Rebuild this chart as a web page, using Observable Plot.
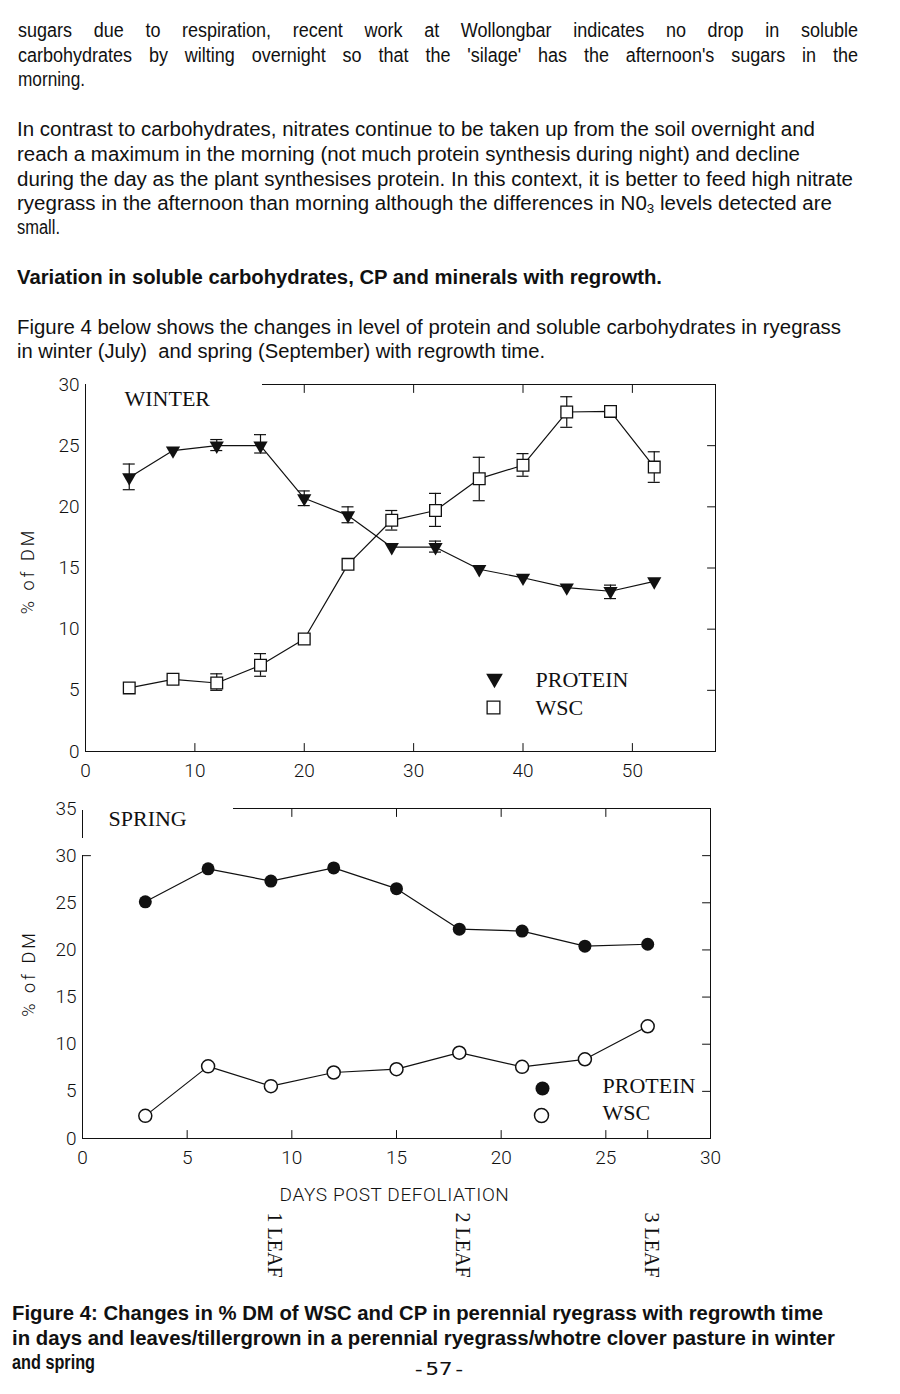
<!DOCTYPE html>
<html><head><meta charset="utf-8">
<script src="https://cdn.jsdelivr.net/npm/d3@7"></script>
<script src="https://cdn.jsdelivr.net/npm/@observablehq/plot@0.6"></script>
<style>
html,body{margin:0;padding:0;background:#fff;}
body{width:900px;height:1394px;position:relative;overflow:hidden;color:#111;}
.ln{position:absolute;white-space:nowrap;transform-origin:0 50%;line-height:1;font-family:"Liberation Sans Narrow","Arial Narrow","Liberation Sans",Arial,sans-serif;font-size:20px;}
.b{font-weight:bold;}
.mono{font-family:"DejaVu Sans Mono",monospace;font-size:18px;}
.chart{position:absolute;left:0;}
sub{font-size:0.65em;vertical-align:-0.25em;line-height:0;}
</style>
</head><body>
<script>
// ---------- DATA ----------
const winterDays = [4, 8, 12, 16, 20, 24, 28, 32, 36, 40, 44, 48, 52];
const winterProtein = [22.4, 24.6, 25.0, 25.0, 20.7, 19.3, 16.7, 16.7, 14.9, 14.2, 13.4, 13.1, 13.9];
const winterProteinLo = [21.4, null, 24.6, 24.4, 20.1, 18.7, null, 16.3, null, null, null, 12.5, null];
const winterProteinHi = [23.5, null, 25.5, 25.9, 21.3, 20.0, null, 17.2, null, null, null, 13.6, null];
const winterWSC = [5.2, 5.9, 5.6, 7.05, 9.2, 15.3, 18.9, 19.7, 22.3, 23.4, 27.75, 27.8, 23.25];
const winterWSCLo = [null, null, 5.0, 6.15, null, null, 18.1, 18.4, 20.5, 22.5, 26.5, null, 22.0];
const winterWSCHi = [null, null, 6.35, 8.0, null, null, 19.7, 21.1, 24.05, 24.35, 29.0, null, 24.5];

const springDays = [3, 6, 9, 12, 15, 18, 21, 24, 27];
const springProtein = [25.1, 28.6, 27.3, 28.7, 26.5, 22.2, 22.0, 20.4, 20.6];
const springWSC = [2.4, 7.65, 5.55, 7.0, 7.35, 9.1, 7.6, 8.4, 11.9];

const leafDays = [9, 18, 27];
const leafLabels = ["1 LEAF", "2 LEAF", "3 LEAF"];
const seriesNames = ["PROTEIN", "WSC"];
const panelNames = ["WINTER", "SPRING"];
const yLabel = "% of DM";
const xLabel = "DAYS POST DEFOLIATION";

const winterXTicks = [0, 10, 20, 30, 40, 50];
const winterYTicks = [0, 5, 10, 15, 20, 25, 30];
const winterBottomInner = [10, 20, 30, 40, 50];
const winterTopInner = [20, 30, 40, 50];
const winterRightInner = [5, 10, 15, 20, 25];
const winterXMax = 57.6;

const springXTicks = [0, 5, 10, 15, 20, 25, 30];
const springYTicks = [0, 5, 10, 15, 20, 25, 30, 35];
const springBottomInner = [5, 10, 15, 20, 25, 27];
const springTopInner = [10, 15, 20, 25];
const springRightInner = [5, 10, 15, 20, 25, 30];
const springLeftInner = [30];

// ---------- TEXT ----------
const textLines = [
  // [html, left, top, targetWidth, class, justify]
  ["sugars due to respiration, recent work at Wollongbar indicates no drop in soluble", 18, 20, 840, "", true],
  ["carbohydrates by wilting overnight so that the 'silage' has the afternoon's sugars in the", 18, 45, 840, "", true],
  ["morning.", 18, 69, 67, "", false],
  ["In contrast to carbohydrates, nitrates continue to be taken up from the soil overnight and", 17, 119, 798, "", false],
  ["reach a maximum in the morning (not much protein synthesis during night) and decline", 17, 144, 783, "", false],
  ["during the day as the plant synthesises protein. In this context, it is better to feed high nitrate", 17, 169, 836, "", false],
  ["ryegrass in the afternoon than morning although the differences in N0<sub>3</sub> levels detected are", 17, 193, 815, "", false],
  ["small.", 17, 217, 43, "", false],
  ["Variation in soluble carbohydrates, CP and minerals with regrowth.", 17, 267, 645, "b", false],
  ["Figure 4 below shows the changes in level of protein and soluble carbohydrates in ryegrass", 17, 317, 824, "", false],
  ["in winter (July)&nbsp; and spring (September) with regrowth time.", 17, 341, 528, "", false],
  ["Figure 4: Changes in % DM of WSC and CP in perennial ryegrass with regrowth time", 12, 1303, 811, "b", false],
  ["in days and leaves/tillergrown in a perennial ryegrass/whotre clover pasture in winter", 12, 1328, 823, "b", false],
  ["and spring", 12, 1352, 83, "b", false],
  ["-57-", 412, 1360, 54, "mono", false]
];

for (const [html, x, y, w, cls, just] of textLines) {
  const el = document.createElement("div");
  el.className = "ln " + cls;
  el.innerHTML = html;
  el.style.left = x + "px";
  el.style.top = y + "px";
  document.body.appendChild(el);
  const nat = el.getBoundingClientRect().width;
  if (just) {
    const k = 0.9;
    const spaces = (html.match(/ /g) || []).length;
    const extra = (w / k - nat) / spaces;
    el.style.wordSpacing = extra + "px";
    el.style.transform = `scaleX(${k})`;
  } else {
    el.style.transform = `scaleX(${w / nat})`;
  }
}

// ---------- CHARTS ----------
const ink = "#111";
const serif = "'Liberation Serif','Times New Roman',serif";
const sans = "Roboto,'DejaVu Sans',sans-serif";
const tickShape = {draw(ctx, l) { ctx.moveTo(0, 0); ctx.lineTo(0, -l); }};
const innerTicks = (vals, ch, anchor, rot) =>
  Plot.vector(vals, {[ch]: d => d, frameAnchor: anchor, length: 8, rotate: rot, anchor: "start", shape: tickShape, stroke: ink, strokeWidth: 1});

const wData = winterDays.map((d, i) => ({
  day: d, protein: winterProtein[i], pLo: winterProteinLo[i], pHi: winterProteinHi[i],
  wsc: winterWSC[i], wLo: winterWSCLo[i], wHi: winterWSCHi[i]
}));
const wPErr = wData.filter(d => d.pLo != null);
const wWErr = wData.filter(d => d.wLo != null);

const axisFont = {fontSize: 19, fontWeight: 300};
const yLabelStyle = {textAnchor: "middle", rotate: -90, fontSize: 18, fontWeight: 300, fontFamily: sans, fill: ink};

const winter = Plot.plot({
  width: 900, height: 430,
  marginTop: 24, marginBottom: 39, marginLeft: 85, marginRight: 185,
  x: {domain: [0, winterXMax]},
  y: {domain: [0, 30]},
  style: {background: "transparent", color: ink, fontFamily: sans, fontSize: "19px", overflow: "visible"},
  marks: [
    Plot.axisX({ticks: winterXTicks, tickSize: 0, tickPadding: 12, label: null, ...axisFont}),
    Plot.axisY({ticks: winterYTicks, tickSize: 0, tickPadding: 6, label: null, ...axisFont}),
    Plot.frame({anchor: "left", stroke: ink}),
    Plot.frame({anchor: "bottom", stroke: ink}),
    Plot.frame({anchor: "right", stroke: ink}),
    Plot.frame({anchor: "top", stroke: ink, insetLeft: 177}),
    innerTicks(winterBottomInner, "x", "bottom", 0),
    innerTicks(winterTopInner, "x", "top", 180),
    innerTicks(winterRightInner, "y", "right", -90),
    Plot.text([yLabel], {text: d => d, frameAnchor: "left", dx: -57, dy: 3, ...yLabelStyle}),
    Plot.text([panelNames[0]], {text: d => d, frameAnchor: "top-left", dx: 39, dy: 6, textAnchor: "start", fontSize: 22, fontFamily: serif, fill: ink}),
    // error bars
    Plot.ruleX(wPErr, {x: "day", y1: "pLo", y2: "pHi", stroke: ink, strokeWidth: 1.2}),
    Plot.ruleY(wPErr, {y: "pLo", x1: "day", x2: "day", insetLeft: -6, insetRight: -6, stroke: ink, strokeWidth: 1.2}),
    Plot.ruleY(wPErr, {y: "pHi", x1: "day", x2: "day", insetLeft: -6, insetRight: -6, stroke: ink, strokeWidth: 1.2}),
    Plot.ruleX(wWErr, {x: "day", y1: "wLo", y2: "wHi", stroke: ink, strokeWidth: 1.2}),
    Plot.ruleY(wWErr, {y: "wLo", x1: "day", x2: "day", insetLeft: -6, insetRight: -6, stroke: ink, strokeWidth: 1.2}),
    Plot.ruleY(wWErr, {y: "wHi", x1: "day", x2: "day", insetLeft: -6, insetRight: -6, stroke: ink, strokeWidth: 1.2}),
    // lines
    Plot.line(wData, {x: "day", y: "protein", stroke: ink, strokeWidth: 1.2}),
    Plot.line(wData, {x: "day", y: "wsc", stroke: ink, strokeWidth: 1.2}),
    // markers
    Plot.dot(wData, {x: "day", y: "protein", symbol: "triangle", rotate: 180, r: 5.3, fill: ink, stroke: "none"}),
    Plot.dot(wData, {x: "day", y: "wsc", symbol: "square", r: 6.6, fill: "white", stroke: ink, strokeWidth: 1.3}),
    // legend
    Plot.dot([seriesNames[0]], {frameAnchor: "bottom-left", dx: 409, dy: -73, symbol: "triangle", rotate: 180, r: 6.2, fill: ink, stroke: "none"}),
    Plot.dot([seriesNames[1]], {frameAnchor: "bottom-left", dx: 408, dy: -44, symbol: "square", r: 7.2, fill: "white", stroke: ink, strokeWidth: 1.3}),
    Plot.text([seriesNames[0]], {text: d => d, frameAnchor: "bottom-left", dx: 450, dy: -65, textAnchor: "start", fontSize: 22, fontFamily: serif, fill: ink}),
    Plot.text([seriesNames[1]], {text: d => d, frameAnchor: "bottom-left", dx: 450, dy: -37, textAnchor: "start", fontSize: 22, fontFamily: serif, fill: ink})
  ]
});
winter.classList.add("chart");
winter.style.top = "360px";
document.body.appendChild(winter);

const sData = springDays.map((d, i) => ({day: d, protein: springProtein[i], wsc: springWSC[i]}));

const spring = Plot.plot({
  width: 900, height: 495,
  marginTop: 13, marginBottom: 152, marginLeft: 82, marginRight: 190,
  x: {domain: [0, 30]},
  y: {domain: [0, 35]},
  style: {background: "transparent", color: ink, fontFamily: sans, fontSize: "19px", overflow: "visible"},
  marks: [
    Plot.axisX({ticks: springXTicks, tickSize: 0, tickPadding: 12, label: null, ...axisFont}),
    Plot.axisY({ticks: springYTicks, tickSize: 0, tickPadding: 6, label: null, ...axisFont}),
    Plot.frame({anchor: "left", stroke: ink, insetTop: 47}),
    Plot.frame({anchor: "left", stroke: ink, insetTop: 2, insetBottom: 301}),
    Plot.frame({anchor: "bottom", stroke: ink}),
    Plot.frame({anchor: "right", stroke: ink}),
    Plot.frame({anchor: "top", stroke: ink, insetLeft: 151}),
    innerTicks(springBottomInner, "x", "bottom", 0),
    innerTicks(springTopInner, "x", "top", 180),
    innerTicks(springRightInner, "y", "right", -90),
    innerTicks(springLeftInner, "y", "left", 90),
    Plot.text([yLabel], {text: d => d, frameAnchor: "left", dx: -53, dy: 0, ...yLabelStyle}),
    Plot.text([panelNames[1]], {text: d => d, frameAnchor: "top-left", dx: 26, dy: 2, textAnchor: "start", fontSize: 22, fontFamily: serif, fill: ink}),
    Plot.text([xLabel], {text: d => d, frameAnchor: "bottom", dy: 62, dx: -2, fontSize: 19, fontWeight: 300, fontFamily: sans, fill: ink}),
    Plot.text(leafDays, {x: d => d, text: (d, i) => leafLabels[i], frameAnchor: "bottom", dy: 74, dx: -3, rotate: 90, textAnchor: "start", fontSize: 20, fontFamily: serif, fill: ink}),
    Plot.line(sData, {x: "day", y: "protein", stroke: ink, strokeWidth: 1.2}),
    Plot.line(sData, {x: "day", y: "wsc", stroke: ink, strokeWidth: 1.2}),
    Plot.dot(sData, {x: "day", y: "protein", r: 6.5, fill: ink, stroke: "none"}),
    Plot.dot(sData, {x: "day", y: "wsc", r: 6.5, fill: "white", stroke: ink, strokeWidth: 1.5}),
    Plot.dot([seriesNames[0]], {frameAnchor: "bottom-left", dx: 460, dy: -50, r: 7, fill: ink, stroke: "none"}),
    Plot.dot([seriesNames[1]], {frameAnchor: "bottom-left", dx: 459, dy: -23, r: 7, fill: "white", stroke: ink, strokeWidth: 1.5}),
    Plot.text([seriesNames[0]], {text: d => d, frameAnchor: "bottom-left", dx: 520, dy: -46, textAnchor: "start", fontSize: 22, fontFamily: serif, fill: ink}),
    Plot.text([seriesNames[1]], {text: d => d, frameAnchor: "bottom-left", dx: 520, dy: -19, textAnchor: "start", fontSize: 22, fontFamily: serif, fill: ink})
  ]
});
spring.classList.add("chart");
spring.style.top = "795px";
document.body.appendChild(spring);

// widen letter spacing of the axis titles, as in the plotter lettering
for (const svg of [winter, spring]) {
  d3.select(svg).selectAll("text")
    .filter(function () { return this.textContent === yLabel; })
    .attr("letter-spacing", "3px");
  d3.select(svg).selectAll("text")
    .filter(function () { return this.textContent === xLabel; })
    .attr("letter-spacing", "0.6px");
}
</script>
</body></html>
